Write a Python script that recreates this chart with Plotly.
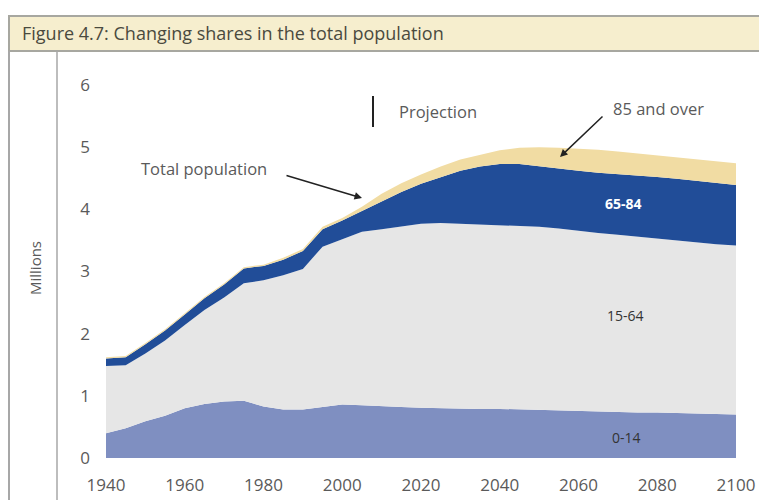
import plotly.graph_objects as go

# data (millions)
years = list(range(1940, 2101, 5))
age_0_14 = [0.40, 0.48, 0.59, 0.68, 0.80, 0.87, 0.91, 0.92, 0.83, 0.78, 0.78, 0.82, 0.86,
            0.85, 0.83, 0.82, 0.81, 0.80, 0.80, 0.79, 0.79, 0.78, 0.77, 0.77, 0.76, 0.75,
            0.74, 0.73, 0.73, 0.72, 0.71, 0.71, 0.70]
age_15_64 = [1.08, 1.01, 1.09, 1.21, 1.34, 1.51, 1.67, 1.89, 2.03, 2.16, 2.26, 2.58, 2.66,
             2.79, 2.85, 2.91, 2.96, 2.98, 2.97, 2.96, 2.95, 2.95, 2.95, 2.92, 2.89, 2.87,
             2.85, 2.83, 2.80, 2.78, 2.75, 2.73, 2.72]
age_65_84 = [0.12, 0.13, 0.15, 0.16, 0.17, 0.19, 0.21, 0.24, 0.23, 0.25, 0.29, 0.28, 0.30,
             0.33, 0.45, 0.55, 0.64, 0.74, 0.85, 0.94, 0.99, 1.00, 0.97, 0.96, 0.97, 0.97,
             0.98, 0.99, 0.99, 0.99, 1.00, 0.98, 0.97]
age_85_plus = [0.02, 0.02, 0.02, 0.02, 0.02, 0.02, 0.02, 0.02, 0.02, 0.03, 0.03, 0.04, 0.04,
               0.07, 0.12, 0.14, 0.15, 0.17, 0.18, 0.19, 0.22, 0.26, 0.31, 0.34, 0.36, 0.37,
               0.36, 0.35, 0.35, 0.35, 0.34, 0.35, 0.35]
series_names = ["0-14", "15-64", "65-84", "85 and over"]
y_ticks = [0, 1, 2, 3, 4, 5, 6]
x_ticks = list(range(1940, 2101, 20))

W, H = 759, 500
L, R, T, B = 106, 23, 85, 42
PW, PH = W - L - R, H - T - B

FONT = "Open Sans"
GREY = "#5a5a5a"


def px(xp):
    # pixel -> paper x
    return (xp - L) / PW


def py(yp):
    # pixel -> paper y
    return (H - B - yp) / PH


colors = ["#7f8fc1", "#e6e6e6", "#214d98", "#f1dca3"]
fig = go.Figure()
for name, vals, c in zip(series_names, [age_0_14, age_15_64, age_65_84, age_85_plus], colors):
    fig.add_trace(go.Scatter(x=years, y=vals, name=name, stackgroup="pop", mode="lines",
                             line=dict(width=0, color=c), fillcolor=c, hoverinfo="x+y+name"))

shapes = [
    # title band
    dict(type="rect", xref="paper", yref="paper", x0=px(9), x1=px(765), y0=py(51), y1=py(16),
         fillcolor="#f6eece", line=dict(color="#a7a7a0", width=2), layer="below"),
    # left frame line
    dict(type="line", xref="paper", yref="paper", x0=px(9), x1=px(9), y0=py(51), y1=py(505),
         line=dict(color="#a7a7a7", width=2)),
    # axis separator line
    dict(type="line", xref="paper", yref="paper", x0=px(57), x1=px(57), y0=py(51), y1=py(505),
         line=dict(color="#a7a7a7", width=1.5)),
    # projection marker
    dict(type="line", xref="paper", yref="paper", x0=px(373), x1=px(373), y0=py(96), y1=py(127),
         line=dict(color="#222", width=2)),
]

ann = [
    dict(text="Figure 4.7: Changing shares in the total population", x=px(20), y=py(33),
         xanchor="left", font=dict(size=18, color="#4a4a3e")),
    dict(text="Millions", x=px(35), y=py(268), textangle=-90, font=dict(size=15, color=GREY)),
    dict(text="Projection", x=px(397), y=py(111), xanchor="left", font=dict(size=16.5, color=GREY)),
    dict(text="Total population", x=px(139), y=py(168), xanchor="left", font=dict(size=16.5, color=GREY)),
    dict(text="85 and over", x=px(611), y=py(108), xanchor="left", font=dict(size=16.5, color=GREY)),
    dict(text="<b>65-84</b>", x=px(623), y=py(203), font=dict(size=14, color="white")),
    dict(text="15-64", x=px(625), y=py(315), font=dict(size=14, color="#333")),
    dict(text="0-14", x=px(626), y=py(437), font=dict(size=14, color="#333")),
    # arrows
    dict(text="", x=px(362), y=py(198), ax=285 - 362, ay=175 - 198, showarrow=True,
         arrowhead=2, arrowsize=1, arrowwidth=1.5, arrowcolor="#222"),
    dict(text="", x=px(560), y=py(157), ax=604 - 560, ay=115 - 157, showarrow=True,
         arrowhead=2, arrowsize=1, arrowwidth=1.5, arrowcolor="#222"),
]
for a in ann:
    a.setdefault("xref", "paper")
    a.setdefault("yref", "paper")
    a.setdefault("xanchor", "center")
    a.setdefault("yanchor", "middle")
    a.setdefault("showarrow", False)

fig.update_layout(
    width=W, height=H, margin=dict(l=L, r=R, t=T, b=B, autoexpand=False),
    paper_bgcolor="white", plot_bgcolor="white", showlegend=False,
    font=dict(family=FONT, color=GREY, size=13),
    shapes=shapes, annotations=ann,
    xaxis=dict(range=[1940, 2100], tickvals=x_ticks, showgrid=False, zeroline=False,
               showline=False, ticks="", ticklabelstandoff=15, tickfont=dict(size=17, color=GREY)),
    yaxis=dict(range=[0, 6], tickvals=y_ticks, showgrid=False, zeroline=False,
               showline=False, ticks="", ticklabelstandoff=15, tickfont=dict(size=17, color=GREY)),
)

# page has a default 8px body margin, drop it
fig.write_html("out.html", config={"displayModeBar": False},
               post_script="document.body.style.margin='0';")
